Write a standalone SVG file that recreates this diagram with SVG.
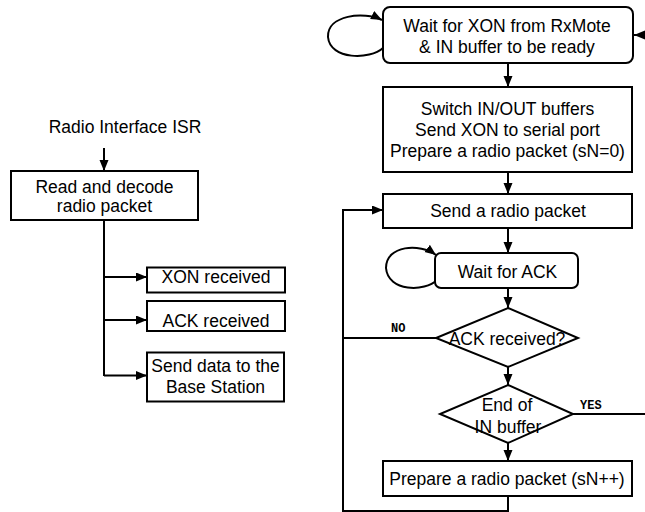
<svg xmlns="http://www.w3.org/2000/svg" width="645" height="512" viewBox="0 0 645 512">
  <style>
    .box { fill: #ffffff; stroke: #000000; stroke-width: 2; }
    .wire { fill: none; stroke: #000000; stroke-width: 2; }
    .arrow { marker-end: url(#head); }
    .lbl { font-family: "Liberation Sans", Arial, sans-serif; font-size: 17.5px; fill: #000000; text-anchor: middle; }
    .tag { font-family: "Liberation Mono", "Courier New", monospace; font-size: 12px; font-weight: bold; fill: #000000; }
  </style>
  <defs>
    <marker id="head" markerUnits="userSpaceOnUse" markerWidth="12" markerHeight="10" refX="11" refY="4.5" orient="auto">
      <path d="M0,0 L11,4.5 L0,9 z" fill="#000000"/>
    </marker>
  </defs>
  <rect width="645" height="512" fill="#ffffff"/>

  <!-- connectors -->
  <g id="connectors">
    <!-- radio interface ISR -->
    <path class="wire arrow" d="M104,148 L104,171"/>
    <path class="wire" d="M104,220 L104,376"/>
    <path class="wire arrow" d="M104,277 L147,277"/>
    <path class="wire arrow" d="M104,320 L147,320"/>
    <path class="wire arrow" d="M104,375.5 L147,375.5"/>

    <!-- main loop -->
    <path class="wire arrow" d="M645,35 L634,35"/>
    <path class="wire arrow" d="M383,48 C370,60 330,60 328,37 C327,15 364,11 382,20"/>
    <path class="wire arrow" d="M508,63 L508,87"/>
    <path class="wire arrow" d="M508,172 L508,194"/>
    <path class="wire arrow" d="M508,228 L508,253"/>
    <path class="wire arrow" d="M437,280 C425,292 388,292 386,268 C386,245 420,243 436,255"/>
    <path class="wire arrow" d="M508,288 L508,308"/>
    <path class="wire arrow" d="M508,367 L508,385"/>
    <path class="wire arrow" d="M508,443 L508,461"/>
    <path class="wire arrow" d="M508,496 L508,511 L343,511 L343,210 L383,210"/>
    <path class="wire" d="M436,338 L343,338"/>
    <path class="wire" d="M573,414 L645,414"/>
    <text class="tag" x="391" y="331.5">NO</text>
    <text class="tag" x="580" y="408.5">YES</text>
  </g>

  <text id="isr-title" class="lbl" x="125" y="132.5">Radio Interface ISR</text>

  <g id="read-decode">
    <rect class="box" x="11" y="171" width="187" height="49"/>
    <text class="lbl" x="104.5" y="193.3">Read and decode</text>
    <text class="lbl" x="104.5" y="212">radio packet</text>
  </g>

  <g id="xon-received">
    <rect class="box" x="147" y="267.5" width="138" height="25"/>
    <text class="lbl" x="216" y="283.3">XON received</text>
  </g>

  <g id="ack-received">
    <rect class="box" x="147" y="301" width="138" height="30"/>
    <text class="lbl" x="216" y="326.7">ACK received</text>
  </g>

  <g id="send-data">
    <rect class="box" x="147" y="352.5" width="137" height="49"/>
    <text class="lbl" x="215.5" y="371.7">Send data to the</text>
    <text class="lbl" x="215.5" y="393.3">Base Station</text>
  </g>

  <g id="wait-xon">
    <rect class="box" x="383" y="7" width="250" height="56" rx="7" ry="7"/>
    <text class="lbl" x="507" y="32">Wait for XON from RxMote</text>
    <text class="lbl" x="507" y="53">&amp; IN buffer to be ready</text>
  </g>

  <g id="switch-buffers">
    <rect class="box" x="383" y="87" width="249" height="85"/>
    <text class="lbl" x="507.5" y="115">Switch IN/OUT buffers</text>
    <text class="lbl" x="507.5" y="136">Send XON to serial port</text>
    <text class="lbl" x="507.5" y="157">Prepare a radio packet (sN=0)</text>
  </g>

  <g id="send-packet">
    <rect class="box" x="383" y="194" width="249" height="34"/>
    <text class="lbl" x="508" y="216.7">Send a radio packet</text>
  </g>

  <g id="wait-ack">
    <rect class="box" x="435" y="253" width="143" height="35" rx="6" ry="6"/>
    <text class="lbl" x="507.5" y="278.3">Wait for ACK</text>
  </g>

  <g id="ack-check">
    <polygon class="box" points="508,308 578,338 508,367 436,338"/>
    <text class="lbl" x="507" y="345">ACK received?</text>
  </g>

  <g id="end-check">
    <polygon class="box" points="508,385 573,414 508,443 440,414"/>
    <text class="lbl" x="507" y="410.7">End of</text>
    <text class="lbl" x="508" y="432.7">IN buffer</text>
  </g>

  <g id="next-packet">
    <rect class="box" x="383" y="461" width="249" height="35"/>
    <text class="lbl" x="507" y="485">Prepare a radio packet (sN++)</text>
  </g>
</svg>
